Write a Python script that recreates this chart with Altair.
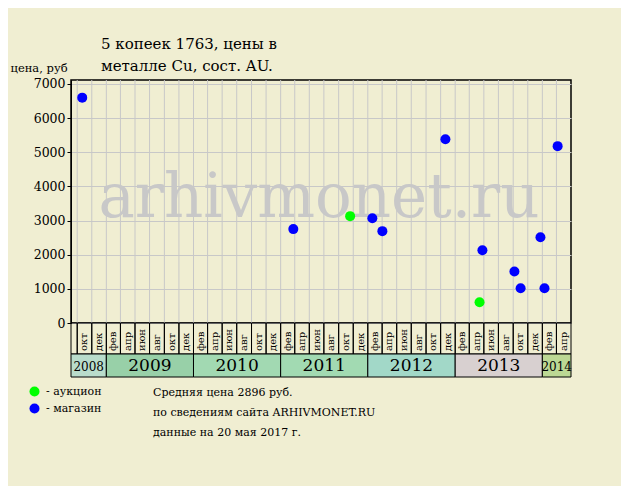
import altair as alt
import pandas as pd

FONT = "DejaVu Serif"
BG = "#f0eed2"

title_lines = ["5 копеек 1763, цены в", "металле Cu, сост. AU."]
y_title = "цена, руб"
watermark = "arhivmonet.ru"
notes = ["Средняя цена 2896 руб.", "по сведениям сайта ARHIVMONET.RU", "данные на 20 мая 2017 г."]

# sales
sale_dates = ["2008-09-22", "2011-02-23", "2011-10-19", "2012-01-20", "2012-03-02",
              "2012-11-21", "2013-04-13", "2013-04-25", "2013-09-06", "2013-10-02",
              "2013-12-24", "2014-01-10", "2014-03-06"]
sale_prices = [6600, 2750, 3130, 3070, 2690, 5380, 610, 2130, 1510, 1020, 2510, 1020, 5180]
sale_kinds = ["магазин", "магазин", "аукцион", "магазин", "магазин", "магазин", "аукцион",
              "магазин", "магазин", "магазин", "магазин", "магазин", "магазин"]
kind_names = ["аукцион", "магазин"]
kind_colors = ["#00ff00", "#0000ff"]

# two-month columns
col_labels = (["окт", "дек"]
              + ["фев", "апр", "июн", "авг", "окт", "дек"] * 5
              + ["фев", "апр"])
y_ticks = [0, 1000, 2000, 3000, 4000, 5000, 6000, 7000]

years = [2008, 2009, 2010, 2011, 2012, 2013, 2014]
year_starts = ["2008-08-06", "2009-01-01", "2010-01-01", "2011-01-01", "2012-01-01", "2013-01-01", "2014-01-01"]
year_ends = ["2009-01-01", "2010-01-01", "2011-01-01", "2012-01-01", "2013-01-01", "2014-01-01", "2014-05-01"]
year_colors = ["#b9dccb", "#98d0a8", "#a2d9b2", "#a2dab2", "#a2d8c8", "#d8d0d0", "#bcd894"]

x_domain = [alt.DateTime(year=2008, month=8, date=6, utc=True),
            alt.DateTime(year=2014, month=5, date=1, utc=True)]

starts = pd.date_range("2008-09-01", periods=len(col_labels), freq="2MS")
ends = starts + pd.DateOffset(months=2)
mids = starts + (ends - starts) / 2
cols = pd.DataFrame({
    "start": ["2008-08-06"] + [d.strftime("%Y-%m-%d") for d in starts],
    "end": ["2008-09-01"] + [d.strftime("%Y-%m-%d") for d in ends],
    "mid": ["2008-08-19"] + [d.strftime("%Y-%m-%dT%H:%M:%SZ") for d in mids],
    "label": [""] + col_labels,
})
grid_df = pd.DataFrame({"d": [d.strftime("%Y-%m-%d") for d in starts]})

sales = pd.DataFrame({"date": sale_dates, "price": sale_prices, "kind": sale_kinds})

yr = pd.DataFrame({"year": years, "start": year_starts, "end": year_ends})
yr["mid"] = [(pd.Timestamp(s) + (pd.Timestamp(e) - pd.Timestamp(s)) / 2).strftime("%Y-%m-%dT%H:%M:%SZ")
             for s, e in zip(year_starts, year_ends)]

xs = alt.Scale(type="utc", domain=x_domain)
ys = alt.Scale(domain=[0, 7117], nice=False)

W = 500

grid = alt.Chart(grid_df).mark_rule(color="#c8c8c8", strokeWidth=1).encode(
    x=alt.X("d:T", scale=xs, axis=None)
)

wm = alt.Chart(pd.DataFrame({"t": [watermark]})).mark_text(
    font=FONT, fontSize=61, color="#c8c8c8", align="center", baseline="alphabetic"
).encode(text="t:N", x=alt.value(248), y=alt.value(137))

pts = alt.Chart(sales).mark_circle(size=100, opacity=1).encode(
    x=alt.X("date:T", scale=xs, axis=None),
    y=alt.Y("price:Q", scale=ys, axis=alt.Axis(
        values=y_ticks, format="d", title=y_title, grid=True, gridColor="#c8c8c8",
        titleAngle=0, titleAlign="left", titleBaseline="alphabetic",
        titleX=-61, titleY=-9, titleFont=FONT, titleFontSize=11.5,
        titleFontWeight="normal", titleColor="black",
        labelFont=FONT, labelFontSize=12.5, labelColor="black", labelPadding=2,
        tickColor="black", tickSize=4, domainColor="black")),
    color=alt.Color("kind:N", scale=alt.Scale(domain=kind_names, range=kind_colors),
                    legend=alt.Legend(title=None, orient="none", legendX=-42, legendY=306,
                                      symbolType="circle", symbolSize=100, symbolStrokeWidth=0,
                                      labelFont=FONT, labelFontSize=11, labelColor="black",
                                      labelExpr="'- ' + datum.label", labelOffset=6,
                                      rowPadding=5, padding=0)),
)

main = alt.layer(grid, wm, pts).properties(
    width=W, height=243,
    view=alt.ViewBackground(stroke="black", strokeWidth=1.5),
    title=alt.Title(title_lines, anchor="start", dx=30, offset=-12, frame="group",
                    font=FONT, fontSize=15, fontWeight="normal", color="black", lineHeight=22),
)

lab_rects = alt.Chart(cols).mark_rect(fillOpacity=0, stroke="black", strokeWidth=1).encode(
    x=alt.X("start:T", scale=xs, axis=None), x2="end:T")
lab_text = alt.Chart(cols).mark_text(angle=270, align="left", baseline="middle",
                                     font=FONT, fontSize=10, color="black").encode(
    x=alt.X("mid:T", scale=xs, axis=None), y=alt.value(28), text="label:N")
labels = alt.layer(lab_rects, lab_text).properties(width=W, height=31)

yr_rects = alt.Chart(yr).mark_rect(stroke="black", strokeWidth=1).encode(
    x=alt.X("start:T", scale=xs, axis=None), x2="end:T",
    fill=alt.Fill("year:O", scale=alt.Scale(domain=years, range=year_colors), legend=None))
yr_big = alt.Chart(yr).transform_filter(
    (alt.datum.year > 2008) & (alt.datum.year < 2014)
).mark_text(font=FONT, fontSize=17, color="black", baseline="middle").encode(
    x=alt.X("mid:T", scale=xs, axis=None), text="year:O", y=alt.value(12))
yr_small = alt.Chart(yr).transform_filter(
    (alt.datum.year == 2008) | (alt.datum.year == 2014)
).mark_text(font=FONT, fontSize=12, color="black", baseline="middle").encode(
    x=alt.X("mid:T", scale=xs, axis=None), text="year:O", y=alt.value(13))
yband = alt.layer(yr_rects, yr_big, yr_small).properties(width=W, height=23)

notes_chart = alt.Chart(pd.DataFrame({"t": ["\n".join(notes)]})).mark_text(
    font=FONT, fontSize=11, color="black", align="left", baseline="alphabetic",
    lineBreak="\n", lineHeight=20
).encode(text="t:N", x=alt.value(82), y=alt.value(19)).properties(width=W, height=60)

chart = alt.vconcat(main, labels, yband, notes_chart, spacing=0, bounds="flush").resolve_scale(
    color="independent", fill="independent"
).properties(
    padding={"left": 1, "top": 28, "right": 48, "bottom": 47}
).configure(background=BG).configure_view(stroke="transparent")

chart.save("out.html", embed_options={"renderer": "svg", "actions": False})
